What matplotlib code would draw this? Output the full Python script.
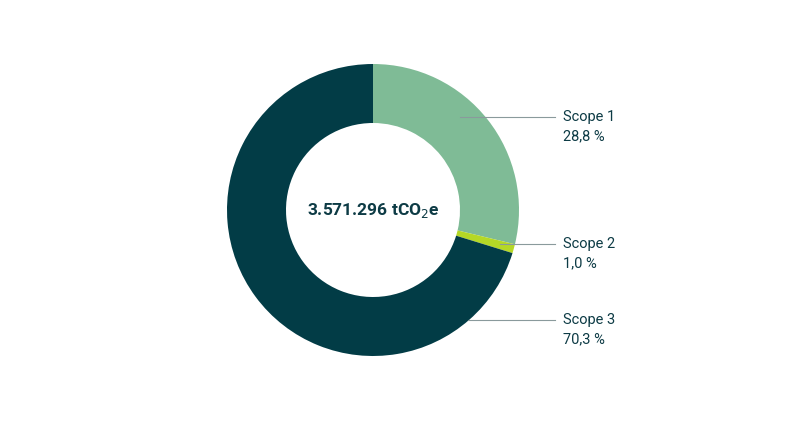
import matplotlib
matplotlib.use("Agg")
import matplotlib.pyplot as plt

categories = ["Scope 1", "Scope 2", "Scope 3"]
values = [28.8, 1.0, 70.3]
pct_labels = ["28,8 %", "1,0 %", "70,3 %"]
colors = ["#7fbb96", "#b5d826", "#023c46"]
total_label = "3.571.296 tCO$_2$e"

plt.rcParams['font.family'] = ['Roboto', 'DejaVu Sans']
W, H = 792, 446
fig = plt.figure(figsize=(W/100, H/100), dpi=100)
ax = fig.add_axes([0, 0, 1, 1])

cx, cy, R = 373, 210, 146
ax.pie(values, colors=colors, startangle=90, counterclock=False, center=(cx, -cy),
       radius=R, wedgeprops=dict(width=R-87, linewidth=0))
ax.set_xlim(0, W); ax.set_ylim(-H, 0); ax.set_aspect('equal'); ax.axis('off')
ax.text(cx, -cy, total_label, ha='center', va='center', fontsize=12.5,
        fontweight='bold', color='#0d3b45')

line_y = [117, 244, 320]
line_x0 = [460, 500, 468]
for name, pct, y, x0 in zip(categories, pct_labels, line_y, line_x0):
    ax.plot([x0, 555], [-y, -y], color='#8a9a9c', lw=0.8, zorder=5)
    ax.text(563, -y, name, ha='left', va='center', fontsize=10.5, color='#0d3b45')
    ax.text(563, -y-19, pct, ha='left', va='center', fontsize=10.5, color='#0d3b45')

fig.savefig("out.png", dpi=100, facecolor='white')
